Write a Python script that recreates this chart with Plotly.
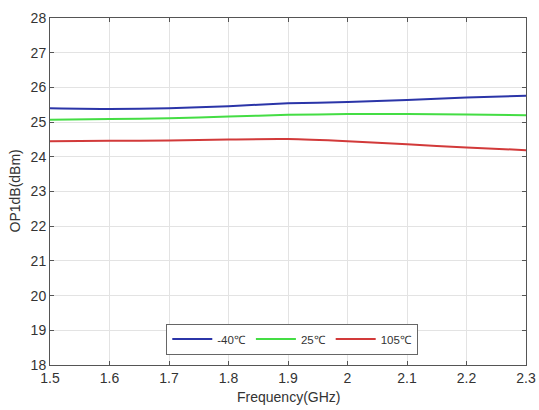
import plotly.graph_objects as go

freq = [1.5, 1.6, 1.7, 1.8, 1.9, 2.0, 2.1, 2.2, 2.3]
op_m40 = [25.40, 25.38, 25.40, 25.46, 25.54, 25.58, 25.64, 25.71, 25.76]
op_25 = [25.07, 25.09, 25.11, 25.16, 25.21, 25.23, 25.23, 25.22, 25.20]
op_105 = [24.45, 24.46, 24.47, 24.50, 24.51, 24.45, 24.36, 24.27, 24.19]
names = ["-40℃", "25℃", "105℃"]
colors = ["#2B35A8", "#44DD44", "#D23A3A"]

fig = go.Figure()
for ys, nm, c in zip([op_m40, op_25, op_105], names, colors):
    fig.add_trace(go.Scatter(x=freq, y=ys, mode="lines", name=nm,
                             line=dict(color=c, width=2, shape="spline", smoothing=0.6)))

axis_common = dict(showgrid=True, gridcolor="#E3E3E3", gridwidth=1,
                   showline=True, linecolor="#555555", linewidth=1, mirror="ticks",
                   ticks="inside", ticklen=4, tickcolor="#555555",
                   tickfont=dict(family="Liberation Sans, Arial", size=14, color="#333333"),
                   zeroline=False, automargin=False)

fig.update_layout(
    width=539, height=410,
    margin=dict(l=50, r=13, t=18, b=45),
    paper_bgcolor="white", plot_bgcolor="white",
    font=dict(family="Liberation Sans, Arial", color="#333333"),
    xaxis=dict(range=[1.5, 2.3], dtick=0.1, tick0=1.5, **axis_common),
    yaxis=dict(range=[18, 28], dtick=1, **axis_common),
    legend=dict(orientation="h", x=0.509, xanchor="center", y=0.03, yanchor="bottom",
                bgcolor="white", bordercolor="#666666", borderwidth=1,
                font=dict(size=11.5, color="#333333"), itemwidth=40,
                tracegroupgap=0),
    showlegend=True,
    annotations=[
        dict(text="Frequency(GHz)", xref="paper", yref="paper", x=0.5, y=0,
             yshift=-32, xanchor="center", yanchor="middle", showarrow=False,
             font=dict(size=14, color="#333333")),
        dict(text="OP1dB(dBm)", xref="paper", yref="paper", x=0, y=0.5,
             xshift=-36, xanchor="center", yanchor="middle", showarrow=False,
             textangle=-90, font=dict(size=14, color="#333333")),
    ],
)

fig.write_html("out.html", config={"displayModeBar": False},
               post_script="document.body.style.margin='0';document.body.style.overflow='hidden';")
